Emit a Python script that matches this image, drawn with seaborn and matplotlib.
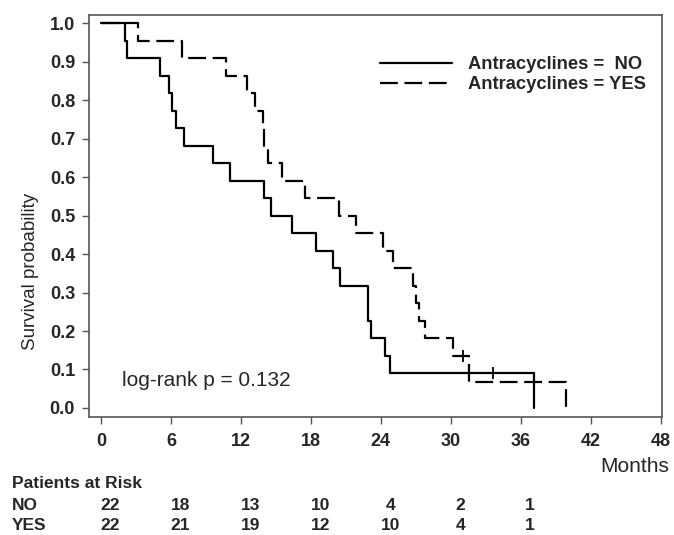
import seaborn as sns
import matplotlib.pyplot as plt
import matplotlib.transforms as mtransforms
from matplotlib.lines import Line2D
import pandas as pd
import numpy as np

# Kaplan-Meier step points
no_times = [0, 2.06, 2.26, 5.06, 5.83, 6.1, 6.43, 7.14, 9.63, 11.06, 13.97, 14.54,
            16.4, 18.43, 19.91, 20.49, 22.94, 23.14, 24.34, 24.8, 37.1]
no_surv = [1.0, 0.955, 0.909, 0.864, 0.818, 0.773, 0.727, 0.682, 0.636, 0.591, 0.545, 0.5,
           0.455, 0.409, 0.364, 0.318, 0.227, 0.182, 0.136, 0.091, 0.0]
yes_times = [0, 3.2, 6.91, 10.7, 12.49, 13.2, 13.9, 13.95, 14.34, 15.54, 17.49, 20.43,
             21.9, 24.2, 25.0, 26.77, 27.0, 27.28, 27.77, 30.2, 31.57, 39.9]
yes_surv = [1.0, 0.955, 0.909, 0.864, 0.818, 0.773, 0.727, 0.682, 0.636, 0.591, 0.545, 0.5,
            0.455, 0.409, 0.364, 0.318, 0.273, 0.227, 0.182, 0.136, 0.068, 0.0]

# censored observations
no_cens_t, no_cens_s = [33.6], [0.091]
yes_cens_t, yes_cens_s = [31.06], [0.136]

risk_times = [0, 6, 12, 18, 24, 30, 36]
no_at_risk = [22, 18, 13, 10, 4, 2, 1]
yes_at_risk = [22, 21, 19, 12, 10, 4, 1]

df = pd.concat([
    pd.DataFrame({'time': no_times, 'surv': no_surv, 'group': 'NO'}),
    pd.DataFrame({'time': yes_times, 'surv': yes_surv, 'group': 'YES'}),
])

sns.set_style('ticks')
plt.rcParams['font.family'] = ['Liberation Sans', 'DejaVu Sans']

fig = plt.figure(figsize=(6.74, 5.35), dpi=100)
ax = fig.add_axes([0.132, 0.2206, 0.850, 0.751])

sns.lineplot(data=df, x='time', y='surv', style='group',
             dashes={'NO': '', 'YES': (8, 3)}, color='black',
             estimator=None, sort=False, drawstyle='steps-post',
             lw=1.6, legend=False, ax=ax)
ax.plot(no_cens_t, no_cens_s, ls='none', marker='|', ms=8, mew=1.3, color='black')
ax.plot(yes_cens_t, yes_cens_s, ls='none', marker='|', ms=8, mew=1.3, color='black')

ax.set_xlim(-1.03, 48.1)
ax.set_ylim(-0.0234, 1.0208)
ax.set_xticks(range(0, 49, 6))
ax.set_yticks(np.arange(0, 1.01, 0.1))
ax.set_yticklabels([f'{v:.1f}' for v in np.arange(0, 1.01, 0.1)])
ax.tick_params(labelsize=13, length=5, width=1, color='#555555')
ax.tick_params(axis='y', pad=5)
ax.tick_params(axis='x', pad=6.5)
for lab in ax.get_xticklabels() + ax.get_yticklabels():
    lab.set_fontweight('bold')
for sp in ax.spines.values():
    sp.set_visible(True)
    sp.set_color('#555555')
    sp.set_linewidth(1.2)

ax.set_xlabel('')
ax.set_ylabel('Survival probability', fontsize=13.5)
ax.yaxis.set_label_coords(-0.088, 0.361)

handles = [Line2D([], [], color='black', lw=1.6),
           Line2D([], [], color='black', lw=1.6, dashes=(8, 3))]
ax.legend(handles, ['Antracyclines =  NO', 'Antracyclines = YES'],
          loc='upper left', bbox_to_anchor=(0.508, 0.8975), frameon=False,
          prop={'weight': 'bold', 'size': 13.2}, handlelength=3.9,
          handletextpad=0.9, labelspacing=0.15, borderpad=0, borderaxespad=0)

ax.text(0.0576, 0.092, 'log-rank p = 0.132', transform=ax.transAxes,
        fontsize=15, va='center', ha='left')

fig.text(0.9926, 1 - 466 / 535, 'Months', fontsize=15, ha='right', va='center')
fig.text(0.0178, 1 - 483 / 535, 'Patients at Risk', fontsize=12.5,
         fontweight='bold', va='center')

trans = mtransforms.blended_transform_factory(ax.transData, fig.transFigure)
rows = [('NO', no_at_risk, 1 - 505.5 / 535), ('YES', yes_at_risk, 1 - 525 / 535)]
for name, vals, yy in rows:
    fig.text(0.0178, yy, name, fontsize=12.5, fontweight='bold', va='center')
    for t, v in zip(risk_times, vals):
        ax.text(t + 0.8, yy, str(v), transform=trans, fontsize=12.5,
                fontweight='bold', ha='center', va='center')

fig.savefig('out.png', dpi=100)
